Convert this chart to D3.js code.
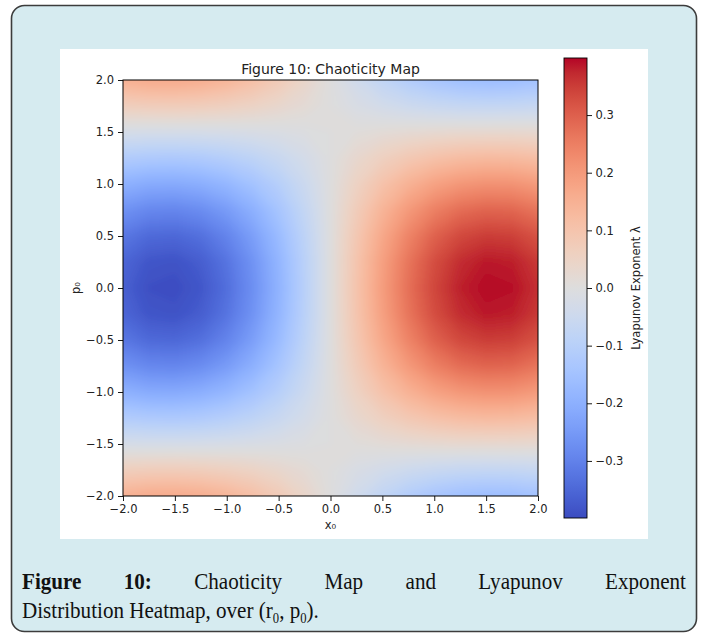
<!DOCTYPE html>
<html>
<head>
<meta charset="utf-8">
<script src="https://cdn.jsdelivr.net/npm/d3@7"></script>
<style>
  html, body { margin: 0; padding: 0; background: #ffffff; }
  svg { display: block; }
</style>
</head>
<body>
<svg id="fig" width="702" height="636"></svg>
<script>
// ---- data -------------------------------------------------------------
// grid positions (x0 across, p0 down from the top row)
const xGrid = [-2, -1.75, -1.5, -1.25, -1, -0.75, -0.5, -0.25, 0, 0.25, 0.5, 0.75, 1, 1.25, 1.5, 1.75, 2];
const pGrid = [2, 1.75, 1.5, 1.25, 1, 0.75, 0.5, 0.25, 0, -0.25, -0.5, -0.75, -1, -1.25, -1.5, -1.75, -2];

// Lyapunov exponent λ on the grid, one row per p0 value (top row p0 = 2)
const lambdaRows = [
  [ 0.151, 0.164, 0.166, 0.158, 0.140, 0.114, 0.080, 0.041, 0, -0.041, -0.080, -0.114, -0.140, -0.158, -0.166, -0.164, -0.151],
  [ 0.065, 0.070, 0.071, 0.068, 0.060, 0.049, 0.034, 0.018, 0, -0.018, -0.034, -0.049, -0.060, -0.068, -0.071, -0.070, -0.065],
  [-0.026,-0.028,-0.028,-0.027,-0.024,-0.019,-0.014,-0.007, 0,  0.007,  0.014,  0.019,  0.024,  0.027,  0.028,  0.028,  0.026],
  [-0.115,-0.124,-0.126,-0.120,-0.106,-0.086,-0.060,-0.031, 0,  0.031,  0.060,  0.086,  0.106,  0.120,  0.126,  0.124,  0.115],
  [-0.197,-0.213,-0.215,-0.205,-0.182,-0.147,-0.104,-0.053, 0,  0.053,  0.104,  0.147,  0.182,  0.205,  0.215,  0.213,  0.197],
  [-0.266,-0.288,-0.292,-0.278,-0.247,-0.200,-0.141,-0.072, 0,  0.072,  0.141,  0.200,  0.247,  0.278,  0.292,  0.288,  0.266],
  [-0.320,-0.346,-0.350,-0.334,-0.296,-0.240,-0.169,-0.087, 0,  0.087,  0.169,  0.240,  0.296,  0.334,  0.350,  0.346,  0.320],
  [-0.353,-0.382,-0.387,-0.368,-0.327,-0.265,-0.186,-0.096, 0,  0.096,  0.186,  0.265,  0.327,  0.368,  0.387,  0.382,  0.353],
  [-0.364,-0.394,-0.399,-0.380,-0.337,-0.273,-0.192,-0.099, 0,  0.099,  0.192,  0.273,  0.337,  0.380,  0.399,  0.394,  0.364],
  [-0.353,-0.382,-0.387,-0.368,-0.327,-0.265,-0.186,-0.096, 0,  0.096,  0.186,  0.265,  0.327,  0.368,  0.387,  0.382,  0.353],
  [-0.320,-0.346,-0.350,-0.334,-0.296,-0.240,-0.169,-0.087, 0,  0.087,  0.169,  0.240,  0.296,  0.334,  0.350,  0.346,  0.320],
  [-0.266,-0.288,-0.292,-0.278,-0.247,-0.200,-0.141,-0.072, 0,  0.072,  0.141,  0.200,  0.247,  0.278,  0.292,  0.288,  0.266],
  [-0.197,-0.213,-0.215,-0.205,-0.182,-0.147,-0.104,-0.053, 0,  0.053,  0.104,  0.147,  0.182,  0.205,  0.215,  0.213,  0.197],
  [-0.115,-0.124,-0.126,-0.120,-0.106,-0.086,-0.060,-0.031, 0,  0.031,  0.060,  0.086,  0.106,  0.120,  0.126,  0.124,  0.115],
  [-0.026,-0.028,-0.028,-0.027,-0.024,-0.019,-0.014,-0.007, 0,  0.007,  0.014,  0.019,  0.024,  0.027,  0.028,  0.028,  0.026],
  [ 0.065, 0.070, 0.071, 0.068, 0.060, 0.049, 0.034, 0.018, 0, -0.018, -0.034, -0.049, -0.060, -0.068, -0.071, -0.070, -0.065],
  [ 0.151, 0.164, 0.166, 0.158, 0.140, 0.114, 0.080, 0.041, 0, -0.041, -0.080, -0.114, -0.140, -0.158, -0.166, -0.164, -0.151]
];

const axisTicks = [-2, -1.5, -1, -0.5, 0, 0.5, 1, 1.5, 2];
const colorbarTicks = [-0.3, -0.2, -0.1, 0, 0.1, 0.2, 0.3];

const chartTitle = "Figure 10: Chaoticity Map";
const xLabel = "x\u2080";
const yLabel = "p\u2080";
const colorbarLabel = "Lyapunov Exponent \u03bb";

// caption: first line justified, second line left aligned
const captionLine1 = [
  { text: "Figure", bold: true }, { text: "10:", bold: true },
  { text: "Chaoticity" }, { text: "Map" }, { text: "and" },
  { text: "Lyapunov" }, { text: "Exponent" }
];
const captionLine2 = [
  { text: "Distribution Heatmap, over (r" }, { text: "0", sub: true },
  { text: ", p" }, { text: "0", sub: true }, { text: ")." }
];

// coolwarm diverging colour table
const coolwarmStops = [
  [59,76,192],[68,90,204],[77,104,215],[87,117,225],[98,130,234],[108,142,241],
  [119,154,247],[130,165,251],[141,176,254],[152,185,255],[163,194,255],[174,201,253],
  [184,208,249],[194,213,244],[204,217,238],[213,219,230],[221,221,221],[229,216,209],
  [236,211,197],[241,204,185],[245,196,173],[247,187,160],[247,177,148],[247,166,135],
  [244,154,123],[241,141,111],[236,127,99],[229,112,88],[222,96,77],[213,80,66],
  [203,62,56],[192,40,47],[180,4,38]
];

// ---- layout -------------------------------------------------------------
const plot = { left: 123, right: 538, top: 80, bottom: 496 };
const cbar = { left: 564, right: 587, top: 58, bottom: 518 };
const axisFont = "'DejaVu Sans', sans-serif";
const captionFont = "'Liberation Serif', 'DejaVu Serif', serif";

const svg = d3.select("#fig");
const defs = svg.append("defs");

// card background
svg.append("rect")
  .attr("x", 11.5).attr("y", 5.5).attr("width", 685).attr("height", 626)
  .attr("rx", 13).attr("ry", 13)
  .attr("fill", "#d6ebf0").attr("stroke", "#3c3c3c").attr("stroke-width", 1.6);

// white figure panel
svg.append("rect")
  .attr("x", 60).attr("y", 49).attr("width", 588).attr("height", 490)
  .attr("fill", "#ffffff");

// ---- scales -------------------------------------------------------------
const x = d3.scaleLinear().domain([-2, 2]).range([plot.left, plot.right]);
const y = d3.scaleLinear().domain([-2, 2]).range([plot.bottom, plot.top]);

const flat = lambdaRows.flat();
const [vmin, vmax] = d3.extent(flat);
const cmap = d3.piecewise(d3.interpolateRgb, coolwarmStops.map(c => d3.rgb(c[0], c[1], c[2])));
const norm = d3.scaleLinear().domain([vmin, vmax]).range([0, 1]).clamp(true);
const color = v => cmap(norm(v));

// ---- heatmap as filled iso-bands ---------------------------------------
const nx = xGrid.length, ny = pGrid.length;
const dxStep = xGrid[1] - xGrid[0];
const dpStep = pGrid[1] - pGrid[0];
const nBands = 120;
const bandStep = (vmax - vmin) / nBands;
const thresholds = d3.range(nBands).map(k => vmin + k * bandStep);
thresholds[0] = vmin - 1;

const contours = d3.contours().size([nx, ny]).thresholds(thresholds)(flat);

const gridToPlot = d3.geoTransform({
  point(cx, cy) {
    this.stream.point(x(xGrid[0] + (cx - 0.5) * dxStep), y(pGrid[0] + (cy - 0.5) * dpStep));
  }
});
const path = d3.geoPath(gridToPlot);

defs.append("clipPath").attr("id", "plotClip")
  .append("rect")
  .attr("x", plot.left).attr("y", plot.top)
  .attr("width", plot.right - plot.left).attr("height", plot.bottom - plot.top);

// soften the band edges so the shading reads as a continuous surface
defs.append("filter").attr("id", "smoothBands")
  .attr("x", "-5%").attr("y", "-5%").attr("width", "110%").attr("height", "110%")
  .append("feGaussianBlur").attr("stdDeviation", 3);

svg.append("g").attr("clip-path", "url(#plotClip)")
  .append("g").attr("filter", "url(#smoothBands)")
  .selectAll("path").data(contours).join("path")
  .attr("d", path)
  .attr("fill", (d, i) => color(i === 0 ? vmin + bandStep / 2 : d.value + bandStep / 2))
  .attr("stroke", (d, i) => color(i === 0 ? vmin + bandStep / 2 : d.value + bandStep / 2))
  .attr("stroke-width", 0.6);

// ---- axes ---------------------------------------------------------------
const fmt = d3.format(".1f");
const styleAxis = g => {
  g.select(".domain").remove();
  g.selectAll(".tick line").attr("stroke", "#000").attr("stroke-width", 0.9);
  g.selectAll(".tick text").attr("fill", "#222").attr("font-size", 11.5).attr("font-family", axisFont);
};

svg.append("g")
  .attr("transform", `translate(0,${plot.bottom})`)
  .call(d3.axisBottom(x).tickValues(axisTicks).tickFormat(fmt).tickSize(5).tickPadding(3.5))
  .call(styleAxis);

svg.append("g")
  .attr("transform", `translate(${plot.left},0)`)
  .call(d3.axisLeft(y).tickValues(axisTicks).tickFormat(fmt).tickSize(5).tickPadding(4))
  .call(styleAxis);

// frame
svg.append("rect")
  .attr("x", plot.left).attr("y", plot.top)
  .attr("width", plot.right - plot.left).attr("height", plot.bottom - plot.top)
  .attr("fill", "none").attr("stroke", "#000").attr("stroke-width", 1);

// title and axis labels
svg.append("text")
  .attr("x", (plot.left + plot.right) / 2).attr("y", 74)
  .attr("text-anchor", "middle").attr("font-family", axisFont).attr("font-size", 14)
  .attr("fill", "#222").text(chartTitle);

svg.append("text")
  .attr("x", (plot.left + plot.right) / 2).attr("y", 529)
  .attr("text-anchor", "middle").attr("font-family", axisFont).attr("font-size", 11.5)
  .attr("fill", "#222").text(xLabel);

svg.append("text")
  .attr("transform", `translate(80,${(plot.top + plot.bottom) / 2}) rotate(-90)`)
  .attr("text-anchor", "middle").attr("font-family", axisFont).attr("font-size", 11.5)
  .attr("fill", "#222").text(yLabel);

// ---- colorbar -----------------------------------------------------------
const cb = d3.scaleLinear().domain([vmin, vmax]).range([cbar.bottom, cbar.top]);
const grad = defs.append("linearGradient")
  .attr("id", "cbGrad").attr("x1", 0).attr("y1", 1).attr("x2", 0).attr("y2", 0);
grad.selectAll("stop").data(d3.range(65)).join("stop")
  .attr("offset", i => i / 64)
  .attr("stop-color", i => color(vmin + (vmax - vmin) * i / 64));

svg.append("rect")
  .attr("x", cbar.left).attr("y", cb(vmax))
  .attr("width", cbar.right - cbar.left).attr("height", cb(vmin) - cb(vmax))
  .attr("fill", "url(#cbGrad)").attr("stroke", "#000").attr("stroke-width", 0.9);

svg.append("g")
  .attr("transform", `translate(${cbar.right},0)`)
  .call(d3.axisRight(cb).tickValues(colorbarTicks).tickFormat(fmt).tickSize(5).tickPadding(3.5))
  .call(styleAxis);

svg.append("text")
  .attr("transform", `translate(640,${(cbar.top + cbar.bottom) / 2}) rotate(-90)`)
  .attr("text-anchor", "middle").attr("font-family", axisFont).attr("font-size", 11.5)
  .attr("fill", "#222").text(colorbarLabel);

// ---- caption ------------------------------------------------------------
// a condensed setting: glyphs are narrowed so the second line spans a fixed width
const capSize = 23.5;
const capLeft = 22, capRight = 686;
const line2Width = 297;

const cap2 = svg.append("text")
  .attr("y", 618)
  .attr("font-family", captionFont).attr("font-size", capSize).attr("fill", "#111");
cap2.selectAll("tspan").data(captionLine2).join("tspan")
  .attr("font-size", d => d.sub ? capSize * 0.6 : capSize)
  .attr("dy", (d, i) => {
    if (d.sub) return 5;
    if (i > 0 && captionLine2[i - 1].sub) return -5;
    return 0;
  })
  .text(d => d.text);
const sx = line2Width / cap2.node().getComputedTextLength();
cap2.attr("transform", `translate(${capLeft},0) scale(${sx},1)`);

const cap1 = svg.append("g")
  .attr("transform", `translate(${capLeft},0) scale(${sx},1)`)
  .attr("font-family", captionFont).attr("font-size", capSize).attr("fill", "#111");
const words = cap1.selectAll("text").data(captionLine1).join("text")
  .attr("y", 589)
  .attr("font-weight", d => d.bold ? "bold" : "normal")
  .text(d => d.text);
const widths = [];
words.each(function () { widths.push(this.getComputedTextLength()); });
const span = (capRight - capLeft) / sx;
const gap = (span - d3.sum(widths)) / (widths.length - 1);
let cursor = 0;
words.attr("x", (d, i) => { const pos = cursor; cursor += widths[i] + gap; return pos; });
</script>
</body>
</html>
